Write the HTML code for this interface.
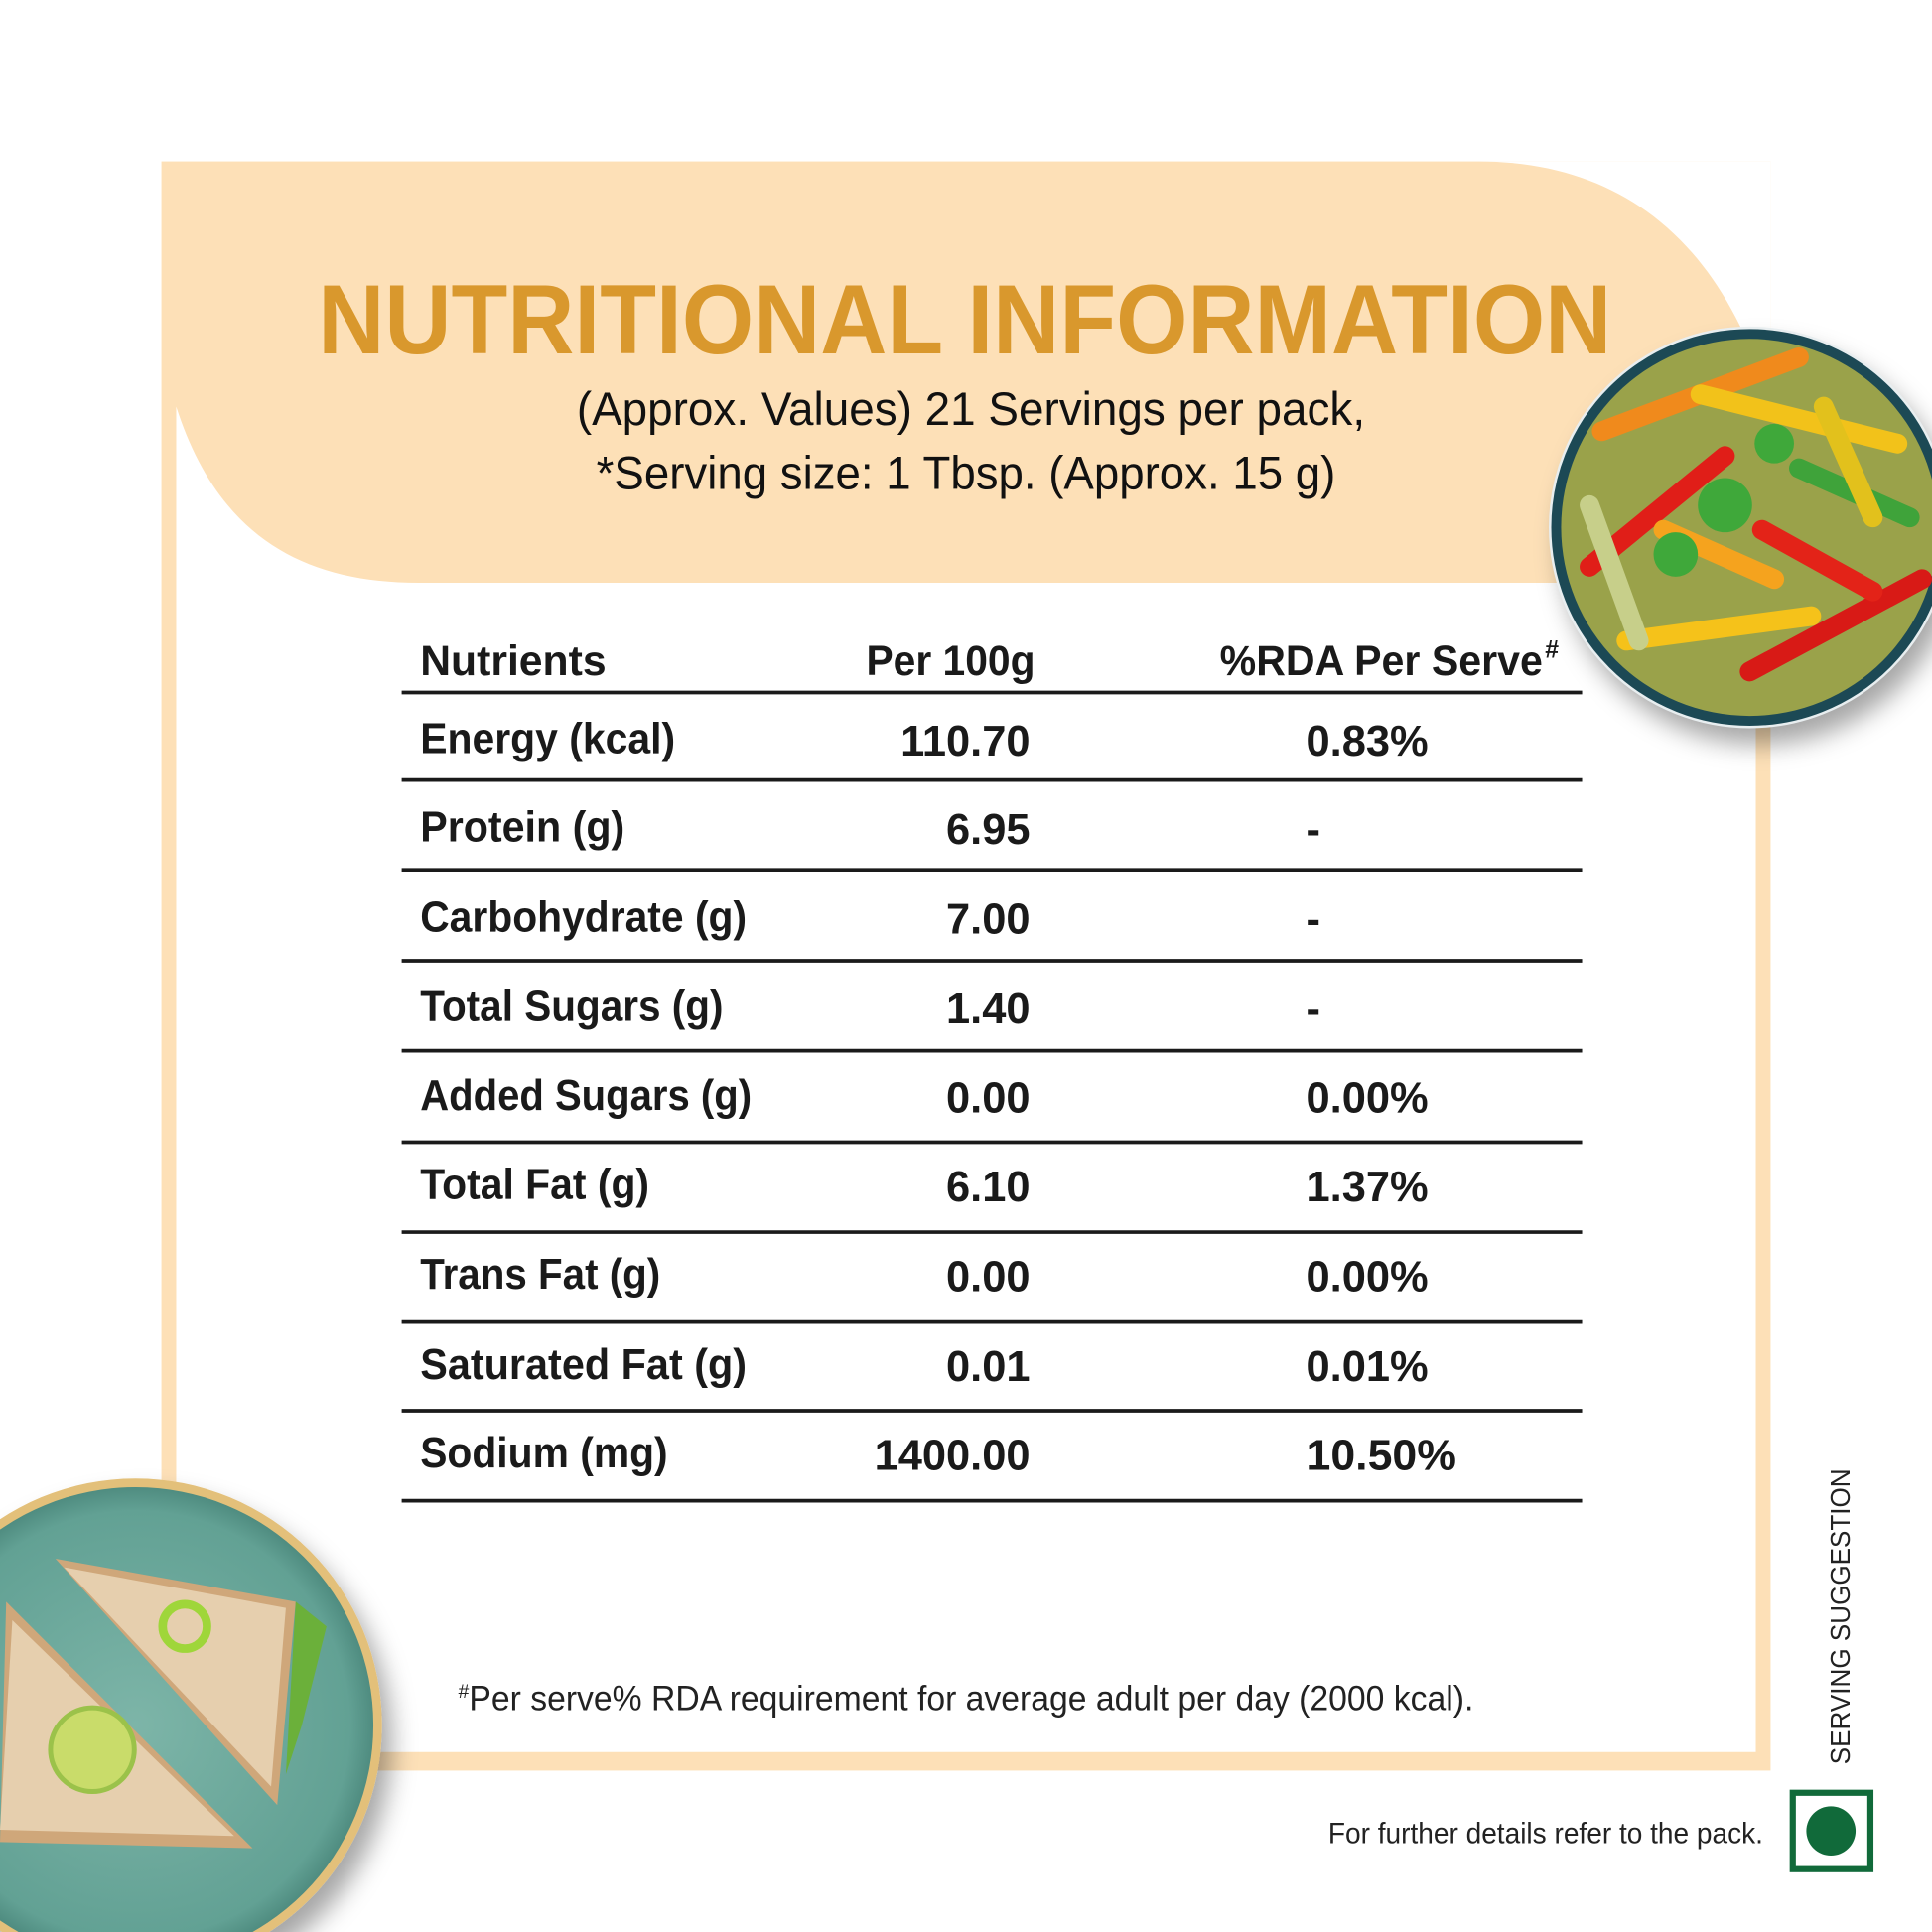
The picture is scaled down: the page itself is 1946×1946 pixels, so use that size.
<!DOCTYPE html>
<html><head><meta charset="utf-8"><style>
html,body{margin:0;padding:0;background:#fff;}
svg{display:block;}
text{font-family:"Liberation Sans Narrow","Liberation Sans",sans-serif;}
</style></head><body>
<svg width="1946" height="1946" viewBox="0 0 1568 1568" xmlns="http://www.w3.org/2000/svg">
<defs>
<radialGradient id="plate" cx="0.5" cy="0.5" r="0.5"><stop offset="0" stop-color="#7db5a8"/><stop offset="0.9" stop-color="#62a194"/><stop offset="1" stop-color="#4f8c80"/></radialGradient>
<filter id="sh" x="-30%" y="-30%" width="160%" height="160%"><feDropShadow dx="8" dy="14" stdDeviation="10" flood-color="#000" flood-opacity="0.35"/></filter>
</defs>
<rect width="1568" height="1568" fill="#fff"/>
<rect x="131" y="131" width="1306" height="1306" fill="#fde0b7"/>
<path d="M143 330 C175 430 240 473 340 473 L1425 473 L1425 1422 L143 1422 Z" fill="#fff"/>
<path d="M1200 131 C1320 131 1400 200 1437 330 L1437 131 Z" fill="#fff"/>
<text x="783" y="287" text-anchor="middle" font-size="80" font-weight="bold" fill="#d9982d" textLength="1050" lengthAdjust="spacingAndGlyphs">NUTRITIONAL INFORMATION</text>
<text x="788" y="345" text-anchor="middle" font-size="38" fill="#111" textLength="640" lengthAdjust="spacingAndGlyphs">(Approx. Values) 21 Servings per pack,</text>
<text x="784" y="397" text-anchor="middle" font-size="38" fill="#111" textLength="600" lengthAdjust="spacingAndGlyphs">*Serving size: 1 Tbsp. (Approx. 15 g)</text>
<g font-size="34" font-weight="bold" fill="#1a1a1a">
<text x="341" y="548" textLength="151" lengthAdjust="spacingAndGlyphs">Nutrients</text>
<text x="840" y="548" text-anchor="end" textLength="137" lengthAdjust="spacingAndGlyphs">Per 100g</text>
<text x="990" y="548" textLength="262" lengthAdjust="spacingAndGlyphs">%RDA Per Serve</text><text x="1254" y="534" font-size="20">#</text>
</g>
<g stroke="#1a1a1a" stroke-width="3">
<line x1="326" x2="1284" y1="562" y2="562"/><line x1="326" x2="1284" y1="633" y2="633"/>
<line x1="326" x2="1284" y1="706" y2="706"/><line x1="326" x2="1284" y1="780" y2="780"/>
<line x1="326" x2="1284" y1="853" y2="853"/><line x1="326" x2="1284" y1="927" y2="927"/>
<line x1="326" x2="1284" y1="1000" y2="1000"/><line x1="326" x2="1284" y1="1073" y2="1073"/>
<line x1="326" x2="1284" y1="1145" y2="1145"/><line x1="326" x2="1284" y1="1218" y2="1218"/>
</g>
<g font-size="35" fill="#1a1a1a" font-weight="bold" lengthAdjust="spacingAndGlyphs">
<text x="341" y="611" textLength="207" lengthAdjust="spacingAndGlyphs">Energy (kcal)</text><text x="836" y="613" text-anchor="end">110.70</text><text x="1060" y="613">0.83%</text>
<text x="341" y="683" textLength="166" lengthAdjust="spacingAndGlyphs">Protein (g)</text><text x="836" y="685" text-anchor="end">6.95</text><text x="1060" y="685">-</text>
<text x="341" y="756" textLength="265" lengthAdjust="spacingAndGlyphs">Carbohydrate (g)</text><text x="836" y="758" text-anchor="end">7.00</text><text x="1060" y="758">-</text>
<text x="341" y="828" textLength="246" lengthAdjust="spacingAndGlyphs">Total Sugars (g)</text><text x="836" y="830" text-anchor="end">1.40</text><text x="1060" y="830">-</text>
<text x="341" y="901" textLength="269" lengthAdjust="spacingAndGlyphs">Added Sugars (g)</text><text x="836" y="903" text-anchor="end">0.00</text><text x="1060" y="903">0.00%</text>
<text x="341" y="973" textLength="186" lengthAdjust="spacingAndGlyphs">Total Fat (g)</text><text x="836" y="975" text-anchor="end">6.10</text><text x="1060" y="975">1.37%</text>
<text x="341" y="1046" textLength="195" lengthAdjust="spacingAndGlyphs">Trans Fat (g)</text><text x="836" y="1048" text-anchor="end">0.00</text><text x="1060" y="1048">0.00%</text>
<text x="341" y="1119" textLength="265" lengthAdjust="spacingAndGlyphs">Saturated Fat (g)</text><text x="836" y="1121" text-anchor="end">0.01</text><text x="1060" y="1121">0.01%</text>
<text x="341" y="1191" textLength="201" lengthAdjust="spacingAndGlyphs">Sodium (mg)</text><text x="836" y="1193" text-anchor="end">1400.00</text><text x="1060" y="1193" textLength="122" lengthAdjust="spacingAndGlyphs">10.50%</text>
</g>
<text x="372" y="1388" font-size="28" fill="#222" textLength="824" lengthAdjust="spacingAndGlyphs"><tspan font-size="16" dy="-10">#</tspan><tspan dy="10">Per serve% RDA requirement for average adult per day (2000 kcal).</tspan></text>
<text x="1431" y="1496" font-size="24" fill="#222" text-anchor="end" textLength="353" lengthAdjust="spacingAndGlyphs">For further details refer to the pack.</text>
<text transform="translate(1501,1432) rotate(-90)" font-size="22" fill="#222" textLength="240" lengthAdjust="spacingAndGlyphs">SERVING SUGGESTION</text>
<rect x="1455" y="1455" width="63" height="62" fill="#fff" stroke="#116a3a" stroke-width="5"/>
<circle cx="1486" cy="1486" r="20" fill="#116a3a"/>
<g filter="url(#sh)"><circle cx="1420" cy="428" r="162" fill="#1f4a55"/></g>
<circle cx="1420" cy="428" r="162" fill="none" stroke="#e8eef0" stroke-width="2"/>
<circle cx="1420" cy="428" r="153" fill="#9aa24a"/>
<g stroke-linecap="round" stroke-width="16">
<line x1="1300" y1="350" x2="1460" y2="290" stroke="#f08a1c"/>
<line x1="1290" y1="460" x2="1400" y2="370" stroke="#e01e18"/>
<line x1="1380" y1="320" x2="1540" y2="360" stroke="#f2c21a"/>
<line x1="1320" y1="520" x2="1470" y2="500" stroke="#f5c21a"/>
<line x1="1420" y1="545" x2="1560" y2="470" stroke="#d81a16"/>
<line x1="1430" y1="430" x2="1520" y2="480" stroke="#e32318"/>
<line x1="1460" y1="380" x2="1550" y2="420" stroke="#3fa33a"/>
<line x1="1290" y1="410" x2="1330" y2="520" stroke="#c7cf8a"/>
<line x1="1350" y1="430" x2="1440" y2="470" stroke="#f5a31e"/>
<line x1="1480" y1="330" x2="1520" y2="420" stroke="#e2c11c"/>
</g>
<g fill="#3fa83a"><circle cx="1400" cy="410" r="22"/><circle cx="1440" cy="360" r="16"/><circle cx="1360" cy="450" r="18"/></g>
<g filter="url(#sh)"><circle cx="110" cy="1400" r="200" fill="#e3c07a"/></g>
<circle cx="110" cy="1400" r="193" fill="url(#plate)"/>
<path d="M45 1265 L240 1300 L225 1465 Z" fill="#cfa77a"/>
<path d="M52 1272 L232 1305 L220 1450 Z" fill="#e6cfae"/>
<path d="M5 1300 L205 1500 L0 1495 Z" fill="#cfa77a"/>
<path d="M10 1315 L190 1490 L0 1485 Z" fill="#e6cfae"/>
<circle cx="75" cy="1420" r="34" fill="#c9dc6a" stroke="#9bc24a" stroke-width="4"/>
<circle cx="150" cy="1320" r="18" fill="none" stroke="#9fd63a" stroke-width="7"/>
<path d="M240 1300 L265 1320 L245 1400 L232 1440 Z" fill="#6bb03a"/>
</svg>
</body></html>
